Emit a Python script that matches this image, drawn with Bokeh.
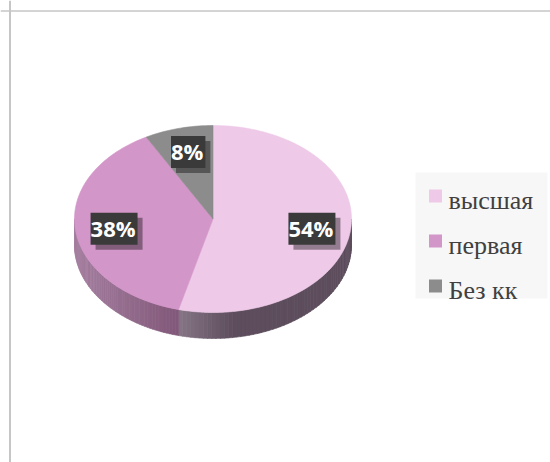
import math
from bokeh.plotting import figure
from bokeh.models import Range1d, Span
from bokeh.core.properties import value
from bokeh.embed import file_html
from bokeh.resources import INLINE

# ---- data ----
categories = ["высшая", "первая", "Без кк"]
percents = [54, 38, 8]
labels = ["54%", "38%", "8%"]
top_colors = ["#EEC9E8", "#D396C9", "#8C8C8C"]
side_light = ["#857585", "#A680A1", "#6E6E6E"]
side_dark = ["#5D4D5D", "#7A5071", "#505050"]

# ---- layout (screen-like coordinates) ----
W, H = 550, 462
p = figure(width=W, height=H, output_backend="svg", toolbar_location=None,
           x_range=Range1d(0, W), y_range=Range1d(H, 0),
           x_axis_location=None, y_axis_location=None, min_border=0)
p.grid.visible = False
p.outline_line_color = None
p.background_fill_color = "white"
p.border_fill_color = "white"

p.add_layout(Span(location=10.5, dimension="width", line_color="#C6C6C6", line_width=1.5))
p.add_layout(Span(location=9.5, dimension="height", line_color="#C6C6C6", line_width=2))

cx, cy, rx, ry, depth = 212.5, 218.5, 138.5, 93.5, 26.0


def pt(t, dy=0.0):
    return cx + rx * math.sin(t), cy - ry * math.cos(t) + dy


def hex2rgb(h):
    h = h.lstrip("#")
    return tuple(int(h[i:i + 2], 16) for i in (0, 2, 4))


def mix(a, b, f):
    ra, rb = hex2rgb(a), hex2rgb(b)
    return "#%02x%02x%02x" % tuple(int(round(ra[i] + (rb[i] - ra[i]) * f)) for i in range(3))


total = float(sum(percents))
bounds = []
acc = 0.0
for v in percents:
    t0 = acc / total * 2 * math.pi
    acc += v
    t1 = acc / total * 2 * math.pi
    bounds.append((t0, t1))

# ---- sides (front half only) ----
sx, sy, sc = [], [], []
for i, (t0, t1) in enumerate(bounds):
    a = max(t0, math.pi / 2)
    b = min(t1, 3 * math.pi / 2)
    if b <= a:
        continue
    n = 60
    for k in range(n):
        ta = a + (b - a) * k / n
        tb = a + (b - a) * (k + 1) / n + 0.002
        xa, ya = pt(ta)
        xb, yb = pt(tb)
        tm = 0.5 * (ta + tb)
        xm = cx + rx * math.sin(tm)
        if i == 0:
            xcut = cx + rx * math.sin(b)
            f = min(1.0, max(0.0, (xm - xcut) / 55.0))
        else:
            f = min(1.0, max(0.0, (xm - (cx - rx)) / (rx * 0.9)))
        col = mix(side_light[i], side_dark[i], f)
        sx.append([xa, xb, xb, xa])
        sy.append([ya, yb, yb + depth, ya + depth])
        sc.append(col)
p.patches(sx, sy, fill_color=sc, line_color=sc, line_width=0.6)

# ---- top surfaces ----
tx, ty = [], []
for (t0, t1) in bounds:
    n = max(8, int((t1 - t0) / (2 * math.pi) * 240))
    xs, ys = [cx], [cy]
    for k in range(n + 1):
        x, y = pt(t0 + (t1 - t0) * k / n)
        xs.append(x)
        ys.append(y)
    tx.append(xs)
    ty.append(ys)
p.patches(tx, ty, fill_color=top_colors, line_color=top_colors, line_width=0.6)

# ---- data labels ----
lx, ly = [], []
for (t0, t1) in bounds:
    tm = 0.5 * (t0 + t1)
    x, y = pt(tm)
    lx.append(cx + (x - cx) * 0.72)
    ly.append(cy + (y - cy) * 0.75 + 1)

lab_font = value("Open Sans")
p.text(lx, ly, text=labels, x_offset=5, y_offset=5, text_alpha=0,
       text_font=lab_font, text_font_style="bold", text_font_size="22px",
       text_align="center", text_baseline="middle",
       background_fill_color="black", background_fill_alpha=0.38, padding=[0, 2, 0, 2])
p.text(lx, ly, text=labels, text_color="white",
       text_font=lab_font, text_font_style="bold", text_font_size="22px",
       text_align="center", text_baseline="middle",
       background_fill_color="#3A3A3A", padding=[0, 2, 0, 2])

# ---- legend ----
p.quad(left=[415], right=[547], top=[172], bottom=[298],
       fill_color="#F7F7F7", line_color=None)
ys_leg = [195.5 + 45 * i for i in range(len(categories))]
p.scatter([435] * len(categories), ys_leg, marker="square", size=13,
          fill_color=top_colors, line_color=None)
p.text([448] * len(categories), [y + 4.5 for y in ys_leg], text=categories,
       text_font=value("Liberation Serif"), text_font_size="26px",
       text_color="#404040", text_baseline="middle", text_align="left")

open("out.html", "w").write(file_html(p, INLINE))
